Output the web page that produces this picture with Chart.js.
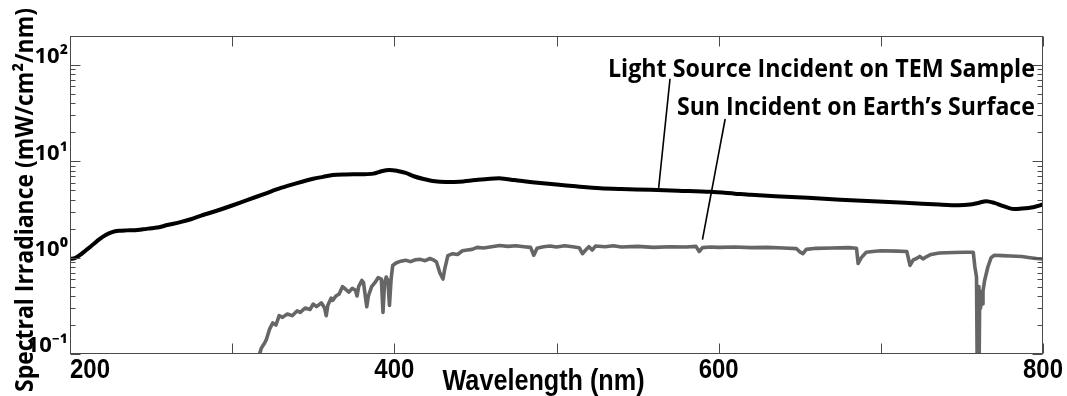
<!DOCTYPE html>
<html>
<head>
<meta charset="utf-8">
<script src="https://cdn.jsdelivr.net/npm/chart.js@4.4.1/dist/chart.umd.min.js"></script>
<style>
  html, body { margin: 0; padding: 0; background: #fff; }
  #wrap { width: 1067px; height: 396px; }
</style>
</head>
<body>
<div id="wrap"><canvas id="chart" width="1067" height="396"></canvas></div>
<script>
/* ── data ───────────────────────────────────────── */
const lampWl  = [200, 203, 206, 210, 214, 218, 222, 226, 230, 235, 240, 245, 250, 255, 260, 268, 275, 280,
                 290, 300, 310, 320, 330, 340, 350, 356, 362, 370, 380, 387, 392, 397, 402, 407, 412, 418,
                 425, 432, 440, 450, 459, 466, 472, 480, 490, 500, 512, 527, 540, 558, 575, 595, 610, 620,
                 635, 655, 675, 695, 715, 736, 748, 755, 760, 765, 770, 775, 781, 787, 794, 800];
const lampIrr = [0.97, 0.99, 1.06, 1.2, 1.36, 1.55, 1.72, 1.84, 1.9, 1.92, 1.93, 1.97, 2.02, 2.07, 2.18, 2.34, 2.52, 2.7,
                 3.05, 3.48, 4.0, 4.6, 5.3, 5.95, 6.6, 6.9, 7.2, 7.3, 7.35, 7.45, 7.9, 8.15, 7.95, 7.6, 7.0, 6.55,
                 6.2, 6.1, 6.15, 6.4, 6.6, 6.65, 6.45, 6.2, 5.95, 5.74, 5.5, 5.25, 5.15, 5.06, 4.95, 4.82, 4.62, 4.49,
                 4.35, 4.18, 4.0, 3.85, 3.72, 3.56, 3.5, 3.56, 3.7, 3.85, 3.7, 3.45, 3.21, 3.24, 3.34, 3.56];

const sunWl  = [316, 318, 320, 321, 323, 325, 327, 329, 331, 334, 337, 340, 342, 345, 348, 350, 352, 355, 357, 358,
                359, 361, 362, 364, 366, 368, 370, 372, 374, 376, 377, 378, 380, 381, 383, 384, 386, 388, 390, 392,
                393, 394, 395, 396, 397, 398, 399, 401, 404, 407, 410, 413, 416, 419, 422, 424, 426, 428, 430, 431,
                433, 436, 439, 442, 445, 448, 451, 455, 460, 465, 470, 475, 480, 484, 486, 488, 492, 496, 500, 505,
                510, 514, 516, 518, 520, 522, 524, 530, 535, 540, 550, 560, 570, 580, 586, 588, 590, 595, 600, 610,
                620, 630, 640, 648, 650, 652, 654, 660, 670, 680, 685, 686, 688, 691, 695, 700, 710, 716, 718, 720,
                722, 724, 726, 728, 731, 736, 745, 752, 757, 758, 759, 759.5, 760, 760.5, 761, 761.5, 762, 762.5, 763, 764,
                766, 768, 770, 775, 780, 787, 792, 796, 800];
const sunIrr = [0.09, 0.115, 0.13, 0.14, 0.18, 0.21, 0.2, 0.25, 0.24, 0.26, 0.25, 0.28, 0.27, 0.3, 0.29, 0.33, 0.31, 0.34, 0.3, 0.25,
                0.32, 0.38, 0.36, 0.4, 0.42, 0.5, 0.47, 0.44, 0.48, 0.46, 0.4, 0.5, 0.58, 0.55, 0.31, 0.4, 0.5, 0.55, 0.62, 0.6,
                0.27, 0.55, 0.63, 0.58, 0.32, 0.6, 0.83, 0.88, 0.92, 0.94, 0.91, 0.95, 0.96, 0.93, 0.98, 0.95, 0.9, 0.7, 0.6, 0.75,
                1.05, 1.1, 1.08, 1.18, 1.2, 1.22, 1.28, 1.26, 1.3, 1.34, 1.31, 1.33, 1.3, 1.28, 1.06, 1.25, 1.3, 1.32, 1.29, 1.33,
                1.3, 1.27, 1.1, 1.2, 1.3, 1.2, 1.32, 1.3, 1.33, 1.29, 1.31, 1.28, 1.3, 1.29, 1.31, 1.16, 1.27, 1.29, 1.28, 1.29,
                1.27, 1.28, 1.26, 1.24, 1.15, 1.1, 1.22, 1.25, 1.26, 1.27, 1.25, 0.87, 1.0, 1.14, 1.16, 1.18, 1.17, 1.16, 0.83, 0.95,
                0.98, 1.03, 0.97, 1.02, 1.08, 1.12, 1.13, 1.14, 1.14, 0.8, 0.63, 0.05, 0.5, 0.05, 0.45, 0.3, 0.42, 0.33, 0.45, 0.58,
                0.8, 1.0, 1.06, 1.05, 1.04, 1.03, 1.0, 0.98, 0.97];

/* ── axes ───────────────────────────────────────── */
const xTicks     = [200, 300, 400, 500, 600, 700, 800];
const xLabels    = ['200', '400', '600', '800'];
const yMajor     = [0.1, 1, 10, 100];
const yTickText  = ['10⁻¹', '10⁰', '10¹', '10²'];
const yMinor     = [0.2, 0.3, 0.4, 0.5, 0.6, 0.7, 0.8, 0.9, 2, 3, 4, 5, 6, 7, 8, 9, 20, 30, 40, 50, 60, 70, 80, 90];

const xTitle = 'Wavelength (nm)';
const yTitle = 'Spectral Irradiance (mW/cm²/nm)';

// callouts: text right edge / baseline, and the leader line (data coords)
const notes = [
  { text: 'Light Source Incident on TEM Sample', at: [795, 75],   w: 427, from: [570, 72],   to: [563, 5.3] },
  { text: 'Sun Incident on Earth’s Surface',     at: [795, 30.4], w: 358, from: [604, 27.5], to: [590, 1.54] },
];

const axisColor = '#4a4a4a';
const labelFont = "'Open Sans', 'Noto Sans', sans-serif";
const numFont   = "'Liberation Sans', Arial, sans-serif";

/* ── frame, inward ticks, labels, callouts ──────── */
const decor = {
  id: 'decor',
  afterDatasetsDraw(chart) {
    const { ctx, chartArea: a, scales: { x, y } } = chart;
    const L = Math.round(a.left) + 0.5, R = Math.round(a.right) - 0.5;
    const T = Math.round(a.top) + 0.5,  B = Math.round(a.bottom) - 0.5;
    const seg = (x1, y1, x2, y2) => { ctx.beginPath(); ctx.moveTo(x1, y1); ctx.lineTo(x2, y2); ctx.stroke(); };

    ctx.save();
    ctx.strokeStyle = axisColor;
    ctx.lineWidth = 1;
    ctx.strokeRect(L, T, R - L, B - T);

    xTicks.forEach(v => {
      const px = Math.round(x.getPixelForValue(v)) + 0.5;
      seg(px, B, px, B - 10);
      seg(px, T, px, T + 10);
    });
    yMajor.concat(yMinor).forEach(v => {
      const py = Math.round(y.getPixelForValue(v)) + 0.5;
      const len = yMajor.includes(v) ? 10 : 5;
      seg(L, py, L + len, py);
      seg(R, py, R - len, py);
    });

    // x tick labels (first one sits right of its tick, like the original)
    ctx.fillStyle = '#000';
    ctx.font = 'bold 28px ' + numFont;
    ctx.textBaseline = 'alphabetic';
    xLabels.forEach((t, i) => {
      ctx.textAlign = i === 0 ? 'left' : 'center';
      ctx.fillText(t, x.getPixelForValue(+t), a.bottom + 24, 40);
    });

    // axis titles
    ctx.textAlign = 'center';
    ctx.font = 'bold 29px ' + numFont;
    ctx.fillText(xTitle, x.getPixelForValue(492), a.bottom + 36, 202);

    ctx.save();
    ctx.translate(33, (a.top + a.bottom) / 2 + 5);
    ctx.rotate(-Math.PI / 2);
    ctx.font = 'bold 25px ' + labelFont;
    ctx.fillText(yTitle, 0, 0, 384);
    ctx.restore();

    // callouts
    ctx.strokeStyle = '#000';
    ctx.lineWidth = 1.6;
    ctx.font = 'bold 25px ' + labelFont;
    ctx.textAlign = 'right';
    notes.forEach(n => {
      ctx.fillText(n.text, x.getPixelForValue(n.at[0]), y.getPixelForValue(n.at[1]), n.w);
      seg(x.getPixelForValue(n.from[0]), y.getPixelForValue(n.from[1]),
          x.getPixelForValue(n.to[0]),   y.getPixelForValue(n.to[1]));
    });
    ctx.restore();
  }
};

new Chart(document.getElementById('chart'), {
  type: 'line',
  data: {
    datasets: [
      {
        label: 'Sun Incident on Earth’s Surface',
        data: sunWl.map((w, i) => ({ x: w, y: sunIrr[i] })),
        borderColor: '#666666',
        borderWidth: 3.6,
        pointRadius: 0,
        tension: 0,
        borderJoinStyle: 'round',
      },
      {
        label: 'Light Source Incident on TEM Sample',
        data: lampWl.map((w, i) => ({ x: w, y: lampIrr[i] })),
        borderColor: '#000000',
        borderWidth: 4,
        pointRadius: 0,
        tension: 0.3,
        borderJoinStyle: 'round',
      },
    ]
  },
  options: {
    responsive: false,
    animation: false,
    layout: { padding: { top: 36, right: 24, left: 0, bottom: 0 } },
    plugins: { legend: { display: false }, tooltip: { enabled: false } },
    scales: {
      x: {
        type: 'linear', min: 200, max: 800,
        afterFit: s => { s.height = 42; },
        grid: { display: false, drawTicks: false },
        border: { display: false },
        ticks: { display: false },
      },
      y: {
        type: 'logarithmic', min: 0.1, max: 200,
        afterBuildTicks: s => { s.ticks = yMajor.map(v => ({ value: v, major: true })); },
        afterFit: s => { s.width = 70; },
        grid: { display: false, drawTicks: false },
        border: { display: false },
        ticks: {
          padding: 2,
          labelOffset: -8,
          color: '#000',
          font: { family: "'Noto Sans', sans-serif", weight: 'bold', size: 22, lineHeight: 1 },
          callback: v => yTickText[yMajor.indexOf(v)] ?? '',
        },
      }
    }
  },
  plugins: [decor]
});
</script>
</body>
</html>
